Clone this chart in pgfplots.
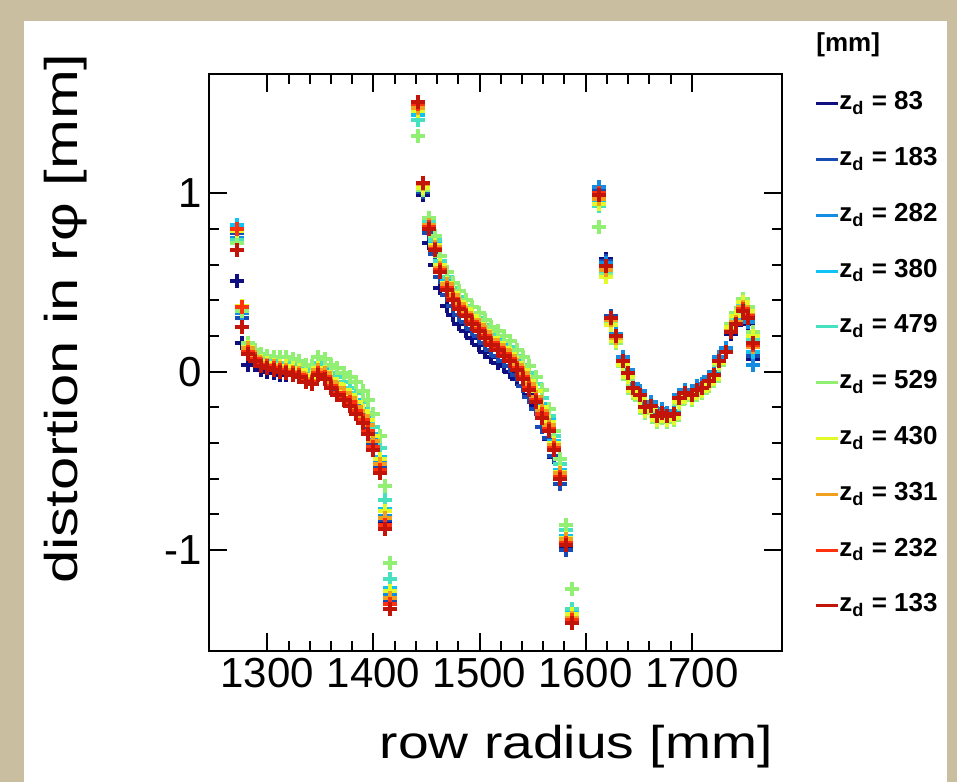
\documentclass[border=0pt]{standalone}
\usepackage{fontspec}
\setmainfont{Liberation Sans}
\newfontfamily\xlabfont[FakeStretch=1.2]{Liberation Sans}
\newfontfamily\ylabfont[FakeStretch=1.3]{Liberation Sans}
\usepackage{pgfplots}
\pgfplotsset{compat=1.18}
\usepackage{pgfplotstable}

\definecolor{bgbeige}{RGB}{202,190,160}
\definecolor{c83}{RGB}{15,15,130}
\definecolor{c183}{RGB}{25,75,180}
\definecolor{c282}{RGB}{20,140,225}
\definecolor{c380}{RGB}{15,195,245}
\definecolor{c479}{RGB}{70,225,190}
\definecolor{c529}{RGB}{145,240,115}
\definecolor{c430}{RGB}{225,250,40}
\definecolor{c331}{RGB}{240,160,30}
\definecolor{c232}{RGB}{255,50,15}
\definecolor{c133}{RGB}{195,20,10}

% distortion in r-phi per pad row, one column per drift length z_d [mm]
\pgfplotstableread{
x    z83   z183  z282  z380  z479  z529  z430  z331  z232  z133
1271 0.51  0.78  0.75  0.82  0.74  0.72  0.79  0.80  0.80  0.68
1276 0.16  0.30  0.33  0.36  0.35  0.34  0.37  0.36  0.36  0.25
1282 0.04  0.12  0.13  0.14  0.15  0.16  0.14  0.13  0.11  0.10
1288 0.04  0.07  0.08  0.09  0.10  0.12  0.08  0.08  0.07  0.06
1294 0.01  0.04  0.05  0.06  0.08  0.10  0.06  0.05  0.04  0.03
1300 0.00  0.03  0.04  0.05  0.07  0.09  0.05  0.04  0.03  0.02
1306 -0.01 0.02  0.03  0.04  0.06  0.08  0.04  0.03  0.02  0.01
1312 -0.02 0.02  0.02  0.04  0.05  0.08  0.03  0.02  0.01  0.00
1318 -0.02 0.01  0.02  0.03  0.05  0.08  0.03  0.01  0.00  -0.01
1324 -0.01 0.00  0.01  0.02  0.04  0.07  0.02  0.00  -0.01 -0.02
1330 -0.02 -0.01 0.00  0.01  0.03  0.06  0.01  -0.01 -0.02 -0.03
1336 -0.05 -0.04 -0.03 -0.02 0.01  0.04  -0.02 -0.04 -0.05 -0.06
1342 -0.06 -0.05 -0.04 -0.03 0.00  0.03  -0.03 -0.05 -0.06 -0.07
1348 -0.01 0.00  0.01  0.03  0.05  0.08  0.02  0.01  -0.01 -0.02
1354 -0.02 -0.02 -0.01 0.01  0.03  0.07  0.00  -0.01 -0.03 -0.04
1360 -0.07 -0.06 -0.05 -0.03 -0.01 0.04  -0.04 -0.06 -0.08 -0.09
1366 -0.11 -0.10 -0.09 -0.06 -0.03 0.02  -0.07 -0.09 -0.12 -0.13
1372 -0.14 -0.13 -0.12 -0.09 -0.06 -0.01 -0.10 -0.12 -0.15 -0.16
1378 -0.17 -0.16 -0.14 -0.12 -0.09 -0.03 -0.13 -0.15 -0.17 -0.19
1384 -0.21 -0.20 -0.19 -0.16 -0.12 -0.06 -0.17 -0.20 -0.22 -0.24
1390 -0.26 -0.25 -0.24 -0.21 -0.17 -0.11 -0.22 -0.25 -0.27 -0.29
1395 -0.32 -0.31 -0.29 -0.26 -0.23 -0.16 -0.27 -0.30 -0.33 -0.35
1400 -0.41 -0.40 -0.38 -0.35 -0.31 -0.24 -0.36 -0.39 -0.42 -0.44
1406 -0.54 -0.53 -0.51 -0.48 -0.43 -0.36 -0.49 -0.52 -0.55 -0.57
1411 -0.84 -0.83 -0.81 -0.77 -0.72 -0.64 -0.78 -0.82 -0.86 -0.88
1416 -1.29 -1.28 -1.25 -1.21 -1.16 -1.07 -1.23 -1.27 -1.30 -1.33
1442 1.45  1.47  1.46  1.44  1.41  1.32  1.46  1.48  1.50  1.51
1447 0.99  1.01  1.02  1.03  1.03  1.02  1.03  1.05  1.06  1.06
1452 0.72  0.78  0.81  0.83  0.84  0.86  0.82  0.82  0.81  0.80
1458 0.60  0.66  0.69  0.72  0.74  0.76  0.71  0.70  0.69  0.68
1463 0.47  0.53  0.57  0.60  0.62  0.65  0.60  0.58  0.57  0.56
1469 0.37  0.43  0.47  0.51  0.53  0.56  0.50  0.49  0.47  0.46
1475 0.32  0.37  0.41  0.45  0.47  0.50  0.44  0.43  0.41  0.40
1481 0.27  0.32  0.36  0.40  0.42  0.45  0.39  0.38  0.36  0.35
1487 0.23  0.28  0.32  0.36  0.37  0.40  0.35  0.33  0.32  0.31
1493 0.19  0.24  0.28  0.32  0.33  0.36  0.31  0.29  0.28  0.27
1499 0.15  0.20  0.24  0.28  0.30  0.33  0.27  0.26  0.24  0.23
1505 0.11  0.16  0.20  0.24  0.26  0.29  0.23  0.22  0.20  0.19
1511 0.08  0.12  0.16  0.20  0.22  0.25  0.19  0.18  0.16  0.15
1517 0.05  0.09  0.13  0.18  0.20  0.23  0.16  0.15  0.13  0.12
1523 0.03  0.06  0.10  0.15  0.17  0.20  0.13  0.12  0.10  0.09
1529 0.00  0.03  0.07  0.12  0.14  0.17  0.10  0.09  0.07  0.06
1535 -0.04 -0.02 0.02  0.07  0.09  0.12  0.05  0.04  0.02  0.01
1541 -0.08 -0.08 -0.03 0.02  0.04  0.08  0.01  -0.01 -0.03 -0.04
1547 -0.13 -0.14 -0.09 -0.04 -0.01 0.03  -0.05 -0.07 -0.09 -0.10
1553 -0.19 -0.21 -0.16 -0.10 -0.07 -0.03 -0.11 -0.14 -0.16 -0.17
1559 -0.31 -0.31 -0.24 -0.18 -0.15 -0.10 -0.20 -0.22 -0.24 -0.26
1565 -0.38 -0.37 -0.32 -0.27 -0.25 -0.21 -0.28 -0.30 -0.32 -0.33
1570 -0.48 -0.47 -0.43 -0.39 -0.36 -0.33 -0.40 -0.41 -0.43 -0.44
1576 -0.63 -0.63 -0.59 -0.55 -0.52 -0.49 -0.56 -0.57 -0.59 -0.60
1581 -0.99 -1.00 -0.96 -0.92 -0.89 -0.86 -0.93 -0.94 -0.96 -0.97
1587 -1.38 -1.38 -1.37 -1.35 -1.33 -1.22 -1.36 -1.38 -1.39 -1.41
1613 1.01  1.02  1.035 0.96  0.93  0.81  0.94  0.97  1.00  0.99
1619 0.63  0.62  0.61  0.57  0.55  0.54  0.53  0.57  0.59  0.59
1624 0.31  0.31  0.30  0.28  0.27  0.27  0.26  0.29  0.30  0.30
1629 0.21  0.21  0.21  0.18  0.17  0.16  0.17  0.19  0.20  0.20
1635 0.07  0.07  0.08  0.05  0.04  0.03  0.04  0.06  0.06  0.06
1640 0.00  0.00  0.01  -0.02 -0.03 -0.04 -0.03 -0.01 -0.01 -0.01
1645 -0.08 -0.08 -0.07 -0.10 -0.11 -0.12 -0.11 -0.09 -0.09 -0.09
1651 -0.12 -0.12 -0.11 -0.14 -0.15 -0.16 -0.15 -0.13 -0.13 -0.13
1656 -0.19 -0.19 -0.18 -0.21 -0.22 -0.23 -0.22 -0.20 -0.20 -0.20
1662 -0.18 -0.18 -0.17 -0.20 -0.21 -0.22 -0.21 -0.19 -0.19 -0.19
1667 -0.24 -0.24 -0.23 -0.26 -0.27 -0.28 -0.27 -0.25 -0.25 -0.25
1672 -0.22 -0.22 -0.21 -0.24 -0.25 -0.26 -0.25 -0.23 -0.23 -0.23
1677 -0.24 -0.24 -0.23 -0.26 -0.27 -0.28 -0.27 -0.25 -0.25 -0.25
1683 -0.23 -0.23 -0.22 -0.25 -0.26 -0.27 -0.26 -0.24 -0.24 -0.24
1688 -0.14 -0.14 -0.13 -0.16 -0.17 -0.18 -0.17 -0.15 -0.15 -0.15
1694 -0.11 -0.11 -0.10 -0.13 -0.14 -0.15 -0.14 -0.12 -0.12 -0.12
1700 -0.12 -0.12 -0.11 -0.14 -0.15 -0.16 -0.15 -0.13 -0.13 -0.13
1705 -0.09 -0.09 -0.08 -0.11 -0.12 -0.13 -0.12 -0.10 -0.10 -0.10
1710 -0.08 -0.08 -0.07 -0.10 -0.11 -0.12 -0.11 -0.09 -0.09 -0.09
1716 -0.04 -0.04 -0.03 -0.06 -0.07 -0.08 -0.07 -0.05 -0.05 -0.05
1721 -0.01 -0.01 0.00  -0.03 -0.04 -0.05 -0.04 -0.02 -0.02 -0.02
1726 0.07  0.07  0.08  0.05  0.05  0.04  0.05  0.06  0.06  0.06
1732 0.12  0.12  0.13  0.11  0.11  0.11  0.11  0.11  0.11  0.11
1737 0.21  0.22  0.23  0.24  0.25  0.27  0.25  0.23  0.22  0.22
1742 0.26  0.27  0.28  0.30  0.31  0.33  0.31  0.28  0.27  0.27
1748 0.31  0.33  0.34  0.36  0.38  0.41  0.39  0.36  0.35  0.34
1753 0.27  0.28  0.28  0.31  0.33  0.36  0.34  0.32  0.31  0.30
1758 0.07  0.09  0.04  0.11  0.18  0.22  0.20  0.14  0.15  0.16
}\distdata

\begin{document}
\begin{tikzpicture}
\fill[bgbeige] (0pt,0pt) rectangle (478.5pt,391pt);
\fill[white] (12pt,0pt) rectangle (473.5pt,380.5pt);
\begin{axis}[
  at={(104.5pt,65.5pt)}, anchor=south west,
  scale only axis, width=286.5pt, height=288.5pt,
  xmin=1245, xmax=1785, ymin=-1.566, ymax=1.669,
  xtick={1300,1400,1500,1600,1700},
  xticklabels={1300,1400,1500,1600,1700},
  ytick={-1,0,1}, yticklabels={-1,0,1},
  minor x tick num=4, minor y tick num=4,
  tick align=inside,
  major tick length=9pt, minor tick length=5pt,
  axis line style={line width=1.2pt},
  every tick/.style={black, line width=1pt},
  tick label style={font=\fontsize{21}{21}\selectfont},
  xlabel={row radius [mm]},
  ylabel={distortion in rφ [mm]},
  xlabel style={font=\xlabfont\fontsize{23}{23}\selectfont, inner sep=0pt,
    at={(axis description cs:0.984,-0.165)}, anchor=east},
  ylabel style={font=\ylabfont\fontsize{23}{23}\selectfont, inner sep=0pt,
    at={(axis description cs:-0.2496,0.576)}, anchor=center},
  legend image code/.code={\draw[#1, line width=1.5pt] (0pt,0pt) -- (11pt,0pt);},
  legend cell align=left,
  legend style={at={(axis description cs:1.0454,0.9805)}, anchor=north west,
    draw=none, fill=none, font=\bfseries\fontsize{13}{13}\selectfont,
    row sep=13.9pt, nodes={inner sep=0pt, text height=10pt, text depth=4pt},
    /tikz/every even column/.style={column sep=2pt}},
  every axis plot/.append style={only marks, mark=+, mark size=3.5pt, mark options={line width=2pt}},
]
\addplot[c83]  table[x=x, y=z83]  {\distdata};
\addplot[c183] table[x=x, y=z183] {\distdata};
\addplot[c282] table[x=x, y=z282] {\distdata};
\addplot[c380] table[x=x, y=z380] {\distdata};
\addplot[c479] table[x=x, y=z479] {\distdata};
\addplot[c529] table[x=x, y=z529] {\distdata};
\addplot[c430] table[x=x, y=z430] {\distdata};
\addplot[c331] table[x=x, y=z331] {\distdata};
\addplot[c232] table[x=x, y=z232] {\distdata};
\addplot[c133] table[x=x, y=z133] {\distdata};
\legend{z\textsubscript{d} = 83, z\textsubscript{d} = 183, z\textsubscript{d} = 282,
  z\textsubscript{d} = 380, z\textsubscript{d} = 479, z\textsubscript{d} = 529,
  z\textsubscript{d} = 430, z\textsubscript{d} = 331, z\textsubscript{d} = 232,
  z\textsubscript{d} = 133}
\end{axis}
\node[anchor=west, font=\bfseries\fontsize{13}{13}\selectfont, inner sep=0pt] at (408pt,368.5pt) {[mm]};
\end{tikzpicture}
\end{document}
